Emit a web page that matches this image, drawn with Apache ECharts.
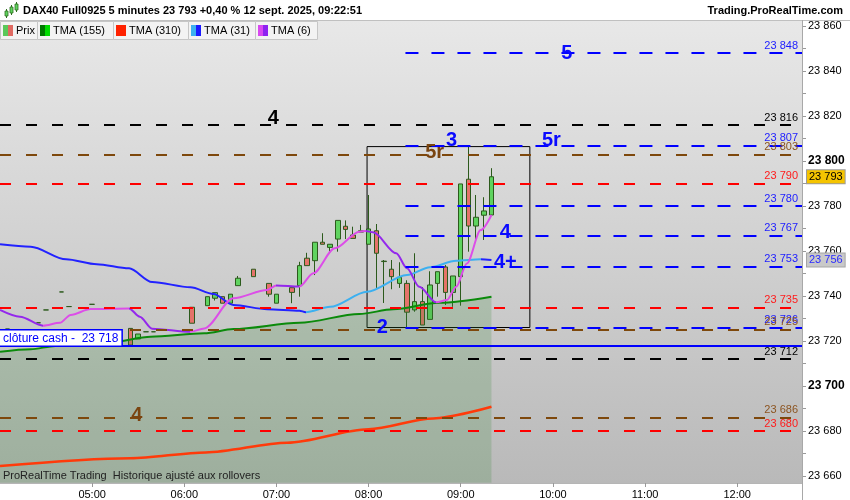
<!DOCTYPE html>
<html><head><meta charset="utf-8">
<script src="https://cdn.jsdelivr.net/npm/echarts@6/dist/echarts.min.js"></script>
<style>html,body{margin:0;padding:0;background:#fff}#c{width:850px;height:500px}</style>
</head><body><div id="c"></div>
<script>
const tm = s => { const p = s.split(':').map(Number); return p[0] * 60 + p[1]; };

// ---- candles (5 minutes) ----
const candleTimes = ['04:05','04:25','04:30','04:40','04:45','05:00','05:25','05:30','05:35','05:40','06:05','06:15','06:20','06:25','06:30','06:35','06:45','06:55','07:00','07:10','07:15','07:20','07:25','07:30','07:35','07:40','07:45','07:50','07:55','08:00','08:05','08:10','08:15','08:20','08:25','08:30','08:35','08:40','08:45','08:50','08:55','09:00','09:05','09:10','09:15','09:20'];
const opens  = [23725.3,23728.1,23733.8,23741.8,23735.3,23736.3,23725.6,23720.9,23724.1,23724.1,23735.0,23735.7,23739.0,23739.7,23736.8,23744.6,23751.9,23745.6,23736.8,23743.7,23744.6,23756.8,23755.7,23763.9,23761.6,23765.3,23771.0,23767.1,23769.0,23763.0,23769.0,23755.5,23751.9,23745.6,23745.6,23733.8,23737.5,23729.6,23745.6,23752.9,23741.6,23748.6,23791.9,23771.1,23775.9,23776.0];
const closes = [23725.3,23728.1,23733.8,23741.8,23735.3,23736.3,23718.2,23723.1,23724.1,23724.1,23727.9,23739.7,23741.5,23736.8,23740.8,23747.9,23748.6,23740.8,23740.8,23741.6,23753.5,23753.5,23763.9,23763.0,23763.0,23773.6,23769.6,23765.6,23768.4,23769.8,23759.0,23755.3,23748.6,23748.3,23732.8,23737.5,23727.1,23744.9,23750.8,23741.6,23748.9,23789.8,23771.1,23775.0,23777.8,23793.0];
const lows   = [23725.3,23728.1,23733.8,23741.8,23735.3,23736.3,23718.2,23720.9,23724.1,23724.1,23727.9,23735.7,23738.0,23736.8,23736.8,23744.6,23748.6,23739.7,23736.8,23736.8,23739.7,23753.5,23749.3,23763.0,23759.7,23759.7,23765.3,23765.6,23768.4,23763.0,23743.6,23736.9,23743.0,23743.6,23726.0,23733.0,23727.1,23729.6,23739.7,23736.0,23735.2,23735.7,23759.7,23764.9,23764.9,23776.0];
const highs  = [23725.3,23728.1,23733.8,23741.8,23735.3,23736.3,23725.6,23723.1,23724.1,23724.1,23735.0,23739.7,23741.5,23739.7,23740.8,23748.9,23751.9,23745.6,23740.8,23743.7,23755.2,23759.2,23763.9,23767.9,23763.0,23773.6,23773.6,23770.8,23771.6,23784.9,23772.0,23756.0,23756.0,23755.0,23747.0,23759.0,23744.0,23751.0,23750.8,23753.8,23748.9,23789.8,23806.4,23784.9,23783.9,23796.8];

// ---- moving averages ----
const tma155Times  = ['04:00','04:20','04:36','05:12','05:38','06:13','06:32','07:15','07:54','08:16','08:46','09:20'];
const tma155Values = [23715.2,23716.3,23717.8,23719.4,23721.9,23723.4,23725.3,23728.1,23732.0,23734.1,23737.0,23739.7];
const tma310Times  = ['04:00','05:25','06:14','07:07','08:00','08:42','09:20'];
const tma310Values = [23664.4,23667.9,23670.5,23674.8,23680.8,23685.6,23690.8];
const tma31Times   = ['04:00','04:20','04:43','05:03','05:24','05:39','06:04','06:19','06:32','06:54','07:15','07:19','07:35','07:59','08:25','08:40','08:57','09:13','09:20'];
const tma31Values  = [23763.0,23761.9,23756.3,23754.1,23752.3,23746.2,23743.9,23740.9,23736.0,23734.1,23733.5,23732.8,23735.2,23741.9,23749.3,23752.8,23755.7,23756.3,23756.0];
const tma6Times    = ['04:00','04:13','04:28','04:39','04:46','04:59','05:24','05:31','05:39','06:04','06:13','06:32','06:54','07:00','07:15','07:24','07:38','07:54','07:58','08:03','08:18','08:25','08:33','08:44','08:51','08:57','09:04','09:13','09:20'];
const tma6Values   = [23733.8,23730.8,23726.8,23728.1,23731.6,23734.2,23734.5,23730.8,23725.5,23724.1,23725.6,23739.0,23742.7,23744.7,23744.2,23750.1,23761.2,23768.6,23768.9,23768.3,23759.0,23752.3,23744.1,23737.2,23738.2,23744.1,23754.5,23769.3,23776.0];

// ---- horizontal levels ----
const levelValues = [23848,23816,23807,23803,23790,23780,23767,23753,23735,23726,23725,23712,23686,23680];
const levelKinds  = ['blue','black','blue','brown','red','blue','blue','blue','red','blue','brown','black','brown','red'];
const levelStarts = ['08:24',null,'08:24',null,null,'08:24','08:24','08:24',null,'08:24',null,null,null,null];
const cashValue = 23718;
const cashText = 'clôture cash -  23 718';
const lastPrice = 23793;
const lastTma31 = 23756;
const lastTime = '09:20';

// ---- box ----
const boxTimes = ['07:59','09:45'];
const boxValues = [23806.4, 23726.0];

// ---- big annotations ----
const tagTexts  = ['5','4','3','5r','5r','2','4','4+','4'];
const tagTimes  = ['10:09','06:58','08:54','09:59','08:43','08:09','09:29','09:29','05:29'];
const tagValues = [23847.6,23819.0,23809.3,23809.3,23803.8,23726.0,23768.2,23754.7,23686.7];
const tagKinds  = ['blue','black','blue','blue','brown','blue','blue','blue','brown'];

// ---- axes ----
const xMin = tm('04:00'), xMax = tm('12:42') + 0.2;
const yMin = 23660, yMax = 23860, yStep = 20;

// ---- styles ----
const FONT = 'Arial, "Liberation Sans", sans-serif';
const lineColors = { blue: '#0000ff', black: '#000000', brown: '#7e480c', red: '#ff0000' };
const textColors = { blue: '#1c1cff', black: '#000000', brown: '#8c5420', red: '#ff1a1a' };
const tagColors  = { blue: '#0a0aff', black: '#000000', brown: '#7a4410' };
const dashes = { blue: [13, 13], black: [11, 15], brown: [11, 15], red: [11, 15] };

const fmt = v => { const s = String(Math.round(v)); return s.slice(0, s.length - 3) + ' ' + s.slice(-3); };
const pad = n => (n < 10 ? '0' : '') + n;

function slopePieces(times, vals, up, down) {
  const pieces = [];
  for (let i = 0; i < times.length - 1; i++) {
    const a = tm(times[i]), b = tm(times[i + 1]);
    const col = vals[i + 1] >= vals[i] ? up : down;
    const last = pieces[pieces.length - 1];
    if (last && last.color === col) last.lt = b; else pieces.push({ gte: a, lt: b, color: col });
  }
  pieces[pieces.length - 1].lt = xMax + 1;
  pieces[0].gte = xMin - 1;
  return pieces;
}

const markLineData = levelValues.map((v, i) => {
  const k = levelKinds[i];
  const style = { color: lineColors[k], type: dashes[k], width: 2 };
  const label = { show: true, position: 'insideEndTop', formatter: fmt(v), color: textColors[k], fontSize: 11, fontFamily: FONT, distance: [4, 2] };
  if (levelStarts[i]) {
    return [{ coord: [tm(levelStarts[i]), v], lineStyle: style, label }, { coord: [xMax, v] }];
  }
  return { yAxis: v, lineStyle: style, label };
});
markLineData.push({ yAxis: cashValue, lineStyle: { color: '#0000ff', type: 'solid', width: 2 },
  label: { show: true, position: 'insideStartTop', formatter: cashText, color: '#0000ff', fontSize: 12, fontFamily: FONT,
    backgroundColor: '#ffffff', borderColor: '#0000ff', borderWidth: 1.5, padding: [2, 3, 1, 3], distance: [0, 0] } });
markLineData.push([{ coord: [tm(lastTime), lastPrice], lineStyle: { color: 'rgba(0,0,0,0)', width: 1 },
  label: { show: true, position: 'end', formatter: fmt(lastPrice), color: '#000', fontSize: 11, fontFamily: FONT,
    backgroundColor: '#f5c400', borderColor: '#9a9a9a', borderWidth: 1, padding: [1, 2, 1, 2], distance: 5 } },
  { coord: [xMax, lastPrice] }]);
markLineData.push([{ coord: [tm(lastTime), lastTma31], lineStyle: { color: 'rgba(0,0,0,0)', width: 1 },
  label: { show: true, position: 'end', formatter: fmt(lastTma31), color: '#2a2aff', fontSize: 11, fontFamily: FONT,
    backgroundColor: '#c9c9c9', borderColor: '#a5a5a5', borderWidth: 1, padding: [1, 2, 1, 2], distance: 5 } },
  { coord: [xMax, lastTma31] }]);

const chart = echarts.init(document.getElementById('c'));

// header / legend graphics
const g = [];
g.push({ type: 'rect', z: -100, silent: true, shape: { x: 0, y: 20, width: 802, height: 463 },
  style: { fill: new echarts.graphic.LinearGradient(0, 0, 0, 1, [{ offset: 0, color: '#e8e8e8' }, { offset: 1, color: '#b9b9b9' }]) } });
g.push({ type: 'line', z: 50, silent: true, shape: { x1: 0, y1: 20.5, x2: 850, y2: 20.5 }, style: { stroke: '#c0c0c0', lineWidth: 1 } });
g.push({ type: 'line', z: 50, silent: true, shape: { x1: 802.5, y1: 20, x2: 802.5, y2: 500 }, style: { stroke: '#a8a8a8', lineWidth: 1 } });
// icon
g.push({ type: 'line', z: 50, shape: { x1: 6.5, y1: 9, x2: 6.5, y2: 18 }, style: { stroke: '#2f6e1f', lineWidth: 1 } });
g.push({ type: 'rect', z: 51, shape: { x: 5, y: 11, width: 3, height: 5 }, style: { fill: '#5fd35f', stroke: '#2f6e1f', lineWidth: 0.8 } });
g.push({ type: 'line', z: 50, shape: { x1: 11.5, y1: 5, x2: 11.5, y2: 15 }, style: { stroke: '#2f6e1f', lineWidth: 1 } });
g.push({ type: 'rect', z: 51, shape: { x: 10, y: 7, width: 3, height: 6 }, style: { fill: '#5fd35f', stroke: '#2f6e1f', lineWidth: 0.8 } });
g.push({ type: 'line', z: 50, shape: { x1: 16.5, y1: 2, x2: 16.5, y2: 12 }, style: { stroke: '#2f6e1f', lineWidth: 1 } });
g.push({ type: 'rect', z: 51, shape: { x: 15, y: 4, width: 3, height: 6 }, style: { fill: '#5fd35f', stroke: '#2f6e1f', lineWidth: 0.8 } });
g.push({ type: 'text', z: 50, style: { x: 23, y: 11, text: 'DAX40 Full0925 5 minutes 23 793 +0,40 % 12 sept. 2025, 09:22:51', font: 'bold 11px ' + FONT, fill: '#000', textVerticalAlign: 'middle' } });
g.push({ type: 'text', z: 50, style: { x: 843, y: 11, text: 'Trading.ProRealTime.com', font: 'bold 11px ' + FONT, fill: '#000', textAlign: 'right', textVerticalAlign: 'middle' } });
const tabs = [
  { x: 0, w: 37, t: 'Prix', c: ['#5ac85a', '#e06a62'] },
  { x: 37, w: 76, t: 'TMA (155)', c: ['#007a00', '#00dd00'] },
  { x: 113, w: 75, t: 'TMA (310)', c: ['#ff2200', '#ff2200'] },
  { x: 188, w: 67, t: 'TMA (31)', c: ['#3cb0f0', '#1a1aff'] },
  { x: 255, w: 62, t: 'TMA (6)', c: ['#d848f0', '#8e22f0'] }
];
tabs.forEach(tb => {
  g.push({ type: 'rect', z: 50, shape: { x: tb.x + 0.5, y: 21.5, width: tb.w, height: 18 }, style: { fill: '#f3f3f3', stroke: '#c6c6c6', lineWidth: 1 } });
  g.push({ type: 'rect', z: 51, shape: { x: tb.x + 3, y: 25, width: 5, height: 11 }, style: { fill: tb.c[0] } });
  g.push({ type: 'rect', z: 51, shape: { x: tb.x + 8, y: 25, width: 5, height: 11 }, style: { fill: tb.c[1] } });
  g.push({ type: 'text', z: 51, style: { x: tb.x + 16, y: 31, text: tb.t, font: '11px ' + FONT, fill: '#000', textVerticalAlign: 'middle' } });
});
g.push({ type: 'text', z: 50, style: { x: 3, y: 476, text: 'ProRealTime Trading  Historique ajusté aux rollovers', font: '11px ' + FONT, fill: '#222', textVerticalAlign: 'middle' } });

chart.setOption({
  animation: false,
  backgroundColor: '#ffffff',
  textStyle: { fontFamily: FONT },
  graphic: { elements: g },
  grid: { left: 0, right: 48, top: 26, bottom: 24, containLabel: false },
  xAxis: {
    type: 'value', min: xMin, max: xMax, interval: 60, offset: 7,
    axisLine: { show: true, lineStyle: { color: '#b5b5b5' } },
    axisTick: { show: true, length: 4, lineStyle: { color: '#999' } },
    splitLine: { show: false },
    axisLabel: { show: true, showMinLabel: false, showMaxLabel: false, color: '#000', fontSize: 11, margin: 6,
      formatter: m => (m % 60 === 0 && m > xMin) ? pad(Math.floor(m / 60)) + ':' + pad(m % 60) : '' }
  },
  yAxis: {
    type: 'value', position: 'right', min: yMin, max: yMax, interval: yStep, scale: true,
    axisLine: { show: false },
    axisTick: { show: true, length: 4, lineStyle: { color: '#999' } },
    minorTick: { show: true, splitNumber: 2, length: 4, lineStyle: { color: '#999' } },
    splitLine: { show: false },
    axisLabel: { color: '#000', fontSize: 11, margin: 6,
      formatter: v => (v % 100 === 0 ? '{b|' + fmt(v) + '}' : fmt(v)),
      rich: { b: { fontWeight: 'bold', fontSize: 12, color: '#000', fontFamily: FONT } } }
  },
  visualMap: [
    { type: 'piecewise', show: false, seriesIndex: 3, dimension: 0, pieces: slopePieces(tma31Times, tma31Values, '#3cb0f0', '#2222ff') },
    { type: 'piecewise', show: false, seriesIndex: 4, dimension: 0, pieces: slopePieces(tma6Times, tma6Values, '#dc4ee8', '#9428ec') }
  ],
  series: [
    { name: 'TMA (155)', type: 'line', clip: false, symbol: 'none', smooth: 0.3, smoothMonotone: 'x',
      data: tma155Times.map((t, i) => [tm(t), tma155Values[i]]),
      lineStyle: { color: '#0b8a0b', width: 2 },
      areaStyle: { color: 'rgba(55,135,55,0.3)', origin: 23657 } },
    { name: 'TMA (310)', type: 'line', symbol: 'none', smooth: 0.3, smoothMonotone: 'x',
      data: tma310Times.map((t, i) => [tm(t), tma310Values[i]]),
      lineStyle: { color: '#ff3a0a', width: 2.5 } },
    { name: 'Prix', type: 'candlestick', barWidth: 5,
      encode: { x: 0, y: [1, 2, 3, 4] },
      data: candleTimes.map((t, i) => [tm(t), opens[i], closes[i], lows[i], highs[i]]),
      itemStyle: { color: '#5fd35f', color0: '#e5736a', borderColor: '#2c5a1c', borderColor0: '#2c5a1c', borderWidth: 1 },
      markLine: { silent: true, symbol: ['none', 'none'], animation: false, data: markLineData },
      markArea: { silent: true, data: [[
        { coord: [tm(boxTimes[0]), boxValues[0]], itemStyle: { color: 'rgba(0,0,0,0)', borderColor: '#000', borderWidth: 1 } },
        { coord: [tm(boxTimes[1]), boxValues[1]] }]] } },
    { name: 'TMA (31)', type: 'line', symbol: 'none', smooth: 0.3, smoothMonotone: 'x',
      data: tma31Times.map((t, i) => [tm(t), tma31Values[i]]),
      lineStyle: { width: 2 } },
    { name: 'TMA (6)', type: 'line', symbol: 'none', smooth: 0.3, smoothMonotone: 'x',
      data: tma6Times.map((t, i) => [tm(t), tma6Values[i]]),
      lineStyle: { width: 2 } }
  ]
});

// big annotations placed through the chart's own scales
const tagEls = tagTexts.map((t, i) => {
  const p = chart.convertToPixel({ gridIndex: 0 }, [tm(tagTimes[i]), tagValues[i]]);
  return { type: 'text', z: 60, silent: true,
    style: { x: p[0], y: p[1], text: t, font: 'bold 20px ' + FONT, fill: tagColors[tagKinds[i]], textAlign: 'center', textVerticalAlign: 'middle' } };
});
chart.setOption({ graphic: { elements: g.concat(tagEls) } });
</script>
</body></html>
